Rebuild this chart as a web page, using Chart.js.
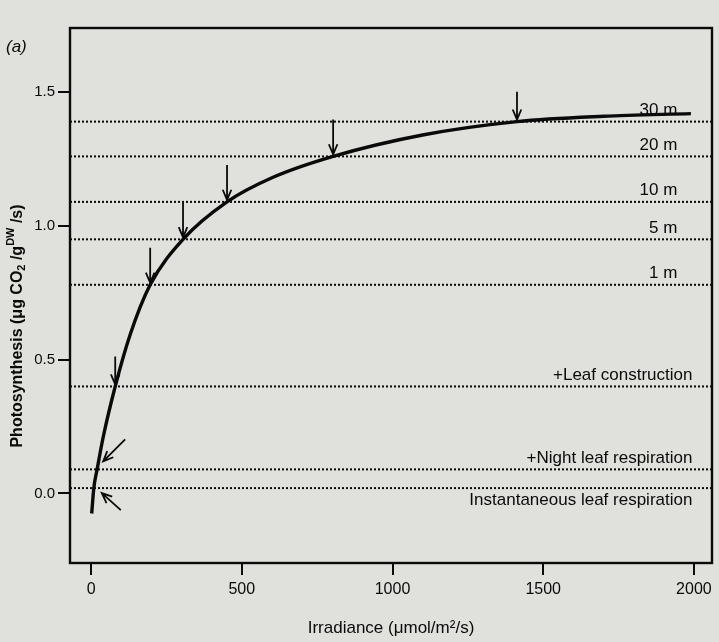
<!DOCTYPE html>
<html>
<head>
<meta charset="utf-8">
<script src="https://cdn.jsdelivr.net/npm/chart.js@4.4.0/dist/chart.umd.min.js"></script>
<style>
  html, body { margin: 0; background: #e0e0dd; }
  #wrap { width: 719px; height: 642px; position: relative; }
</style>
</head>
<body>
<div id="wrap"><canvas id="chart"></canvas></div>
<script>
// light response curve
var irradiance = [2, 9, 20, 40, 80, 130, 196, 305, 451, 600, 803, 1100, 1413, 1700, 1990];
var photosynthesis = [-0.075, 0.02, 0.09, 0.21, 0.40, 0.595, 0.78, 0.95, 1.09, 1.18, 1.26, 1.34, 1.39, 1.41, 1.42];

// dotted levels (canopy depth / respiration costs)
var levelNames = ["30 m", "20 m", "10 m", "5 m", "1 m", "+Leaf construction", "+Night leaf respiration", "Instantaneous leaf respiration"];
var levelValues = [1.39, 1.26, 1.09, 0.95, 0.78, 0.40, 0.09, 0.02];
// where the curve meets each level (arrows)
var arrowIrradiance = [1413, 803, 451, 305, 196, 80, 20, 9];

var xTicks = [0, 500, 1000, 1500, 2000];
var yTicks = [0, 0.5, 1.0, 1.5];
var xMin = -70, xMax = 2060, yMin = -0.26, yMax = 1.74;

var ink = "#0a0a0a";
var fontName = "'Liberation Sans', Arial, sans-serif";

var datasets = [{
  data: irradiance.map(function (v, i) { return { x: v, y: photosynthesis[i] }; }),
  borderColor: ink,
  borderWidth: 3.4,
  pointRadius: 0,
  cubicInterpolationMode: "monotone"
}];
levelValues.forEach(function (v) {
  datasets.push({
    data: [{ x: xMin, y: v }, { x: xMax, y: v }],
    borderColor: ink,
    borderWidth: 2,
    borderDash: [2, 2],
    pointRadius: 0
  });
});

function arrow(ctx, x0, y0, x1, y1) {
  var a = Math.atan2(y1 - y0, x1 - x0), h = 11, s = 0.4;
  ctx.beginPath();
  ctx.moveTo(x0, y0);
  ctx.lineTo(x1, y1);
  ctx.moveTo(x1 - h * Math.cos(a - s), y1 - h * Math.sin(a - s));
  ctx.lineTo(x1, y1);
  ctx.lineTo(x1 - h * Math.cos(a + s), y1 - h * Math.sin(a + s));
  ctx.stroke();
}

// y title with real sub/superscripts
function yTitle(ctx, cx, cy) {
  var big = "bold 16px " + fontName, small = "bold 11px " + fontName;
  var parts = [
    { t: "Photosynthesis (\u03bcg CO", f: big, dy: 0 },
    { t: "2", f: small, dy: 4 },
    { t: " /g", f: big, dy: 0 },
    { t: "DW", f: small, dy: -7 },
    { t: " /s)", f: big, dy: 0 }
  ];
  var w = 0;
  parts.forEach(function (p) { ctx.font = p.f; p.w = ctx.measureText(p.t).width; w += p.w; });
  ctx.save();
  ctx.translate(cx, cy);
  ctx.rotate(-Math.PI / 2);
  ctx.textBaseline = "middle";
  ctx.textAlign = "left";
  var x = -w / 2;
  parts.forEach(function (p) { ctx.font = p.f; ctx.fillText(p.t, x, p.dy); x += p.w; });
  ctx.restore();
}

var extras = {
  id: "extras",
  afterDatasetsDraw: function (chart) {
    var ctx = chart.ctx, a = chart.chartArea;
    var xs = chart.scales.x, ys = chart.scales.y;
    ctx.save();
    ctx.strokeStyle = ink;
    ctx.lineWidth = 2.4;
    ctx.strokeRect(a.left, a.top, a.right - a.left, a.bottom - a.top);

    // level labels
    ctx.fillStyle = ink;
    ctx.font = "17px " + fontName;
    ctx.textAlign = "right";
    levelNames.forEach(function (name, i) {
      var y = ys.getPixelForValue(levelValues[i]);
      var x = xs.getPixelForValue(i < 5 ? 1945 : 1995);
      if (i === 7) {
        ctx.textBaseline = "top";
        ctx.fillText(name, x, y + 4);
      } else {
        ctx.textBaseline = "bottom";
        ctx.fillText(name, x, y - 3);
      }
    });

    // arrows
    ctx.lineWidth = 1.8;
    arrowIrradiance.forEach(function (v, i) {
      var px = xs.getPixelForValue(v), py = ys.getPixelForValue(levelValues[i]);
      if (i < 6) {
        var len = (i === 0 || i === 5) ? 28 : 35;
        arrow(ctx, px, py - 2 - len, px, py - 2);
      } else if (i === 6) {
        arrow(ctx, px + 28, py - 30, px + 6, py - 8);
      } else {
        arrow(ctx, px + 27, py + 22, px + 8, py + 5);
      }
    });

    ctx.font = "italic 17px " + fontName;
    ctx.textAlign = "left";
    ctx.textBaseline = "middle";
    ctx.fillText("(a)", 6, 47);

    yTitle(ctx, 18, 326);
    ctx.restore();
  }
};

new Chart(document.getElementById("chart"), {
  type: "line",
  data: { datasets: datasets },
  options: {
    responsive: true,
    maintainAspectRatio: false,
    animation: false,
    layout: { padding: { left: 0, right: 7, top: 28, bottom: 0 } },
    plugins: { legend: { display: false }, tooltip: { enabled: false } },
    scales: {
      x: {
        type: "linear",
        min: xMin,
        max: xMax,
        afterBuildTicks: function (s) { s.ticks = xTicks.map(function (v) { return { value: v }; }); },
        afterFit: function (s) { s.height = 79; },
        grid: { drawOnChartArea: false, tickLength: 12, color: ink, lineWidth: 2 },
        border: { display: true, color: ink, width: 2 },
        ticks: {
          color: ink,
          padding: 5,
          maxRotation: 0,
          font: { family: fontName, size: 16 },
          callback: function (v) { return String(v); }
        },
        title: {
          display: true,
          text: "Irradiance (\u03bcmol/m\u00b2/s)",
          color: ink,
          font: { family: fontName, size: 17 },
          padding: { top: 0, bottom: 3 }
        }
      },
      y: {
        min: yMin,
        max: yMax,
        afterBuildTicks: function (s) { s.ticks = yTicks.map(function (v) { return { value: v }; }); },
        afterFit: function (s) { s.width = 70; },
        grid: { drawOnChartArea: false, tickLength: 12, color: ink, lineWidth: 2 },
        border: { display: true, color: ink, width: 2 },
        ticks: {
          color: ink,
          padding: 3,
          font: { family: fontName, size: 15 },
          callback: function (v) { return v.toFixed(1); }
        }
      }
    }
  },
  plugins: [extras]
});
</script>
</body>
</html>
